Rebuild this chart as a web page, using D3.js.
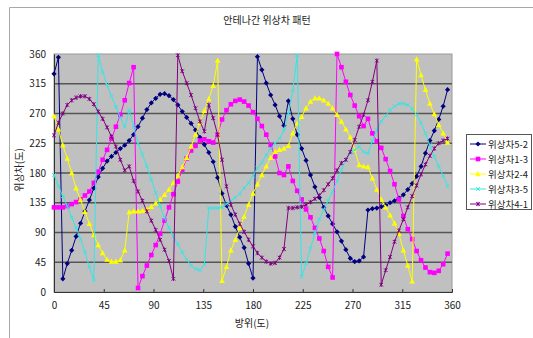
<!DOCTYPE html>
<html>
<head>
<meta charset="utf-8">
<script src="https://cdn.jsdelivr.net/npm/d3@7/dist/d3.min.js"></script>
<style>
  html, body { margin: 0; padding: 0; background: #fff; }
  svg { display: block; }
  text { font-family: "Noto Sans CJK KR", "Noto Sans", sans-serif; fill: #222; }
</style>
</head>
<body>
<svg id="chart" width="533" height="338"></svg>
<script>
// Azimuth samples (degrees), one every 4 degrees
const azimuth = d3.range(0, 360, 4);

const yTicks = [0, 45, 90, 135, 180, 225, 270, 315, 360];
const xTicks = [0, 45, 90, 135, 180, 225, 270, 315, 360];

const seriesNames = ["위상차5-2", "위상차1-3", "위상차2-4", "위상차3-5", "위상차4-1"];
const seriesColors = ["#000080", "#ff00ff", "#ffff00", "#33e6e6", "#800080"];
const seriesMarkers = ["diamond", "square", "triangle", "cross", "star"];

const phase52 = [330,355,20,43,63,84,104,122,139,157,174,187,198,205,211,217,222,229,238,250,
  263,276,286,293,299,300,297,291,283,273,264,255,245,234,223,211,197,173,149,131,
  117,99,83,67,43,21,356,336,316,298,283,266,252,289,262,238,217,199,177,159,
  143,128,115,103,91,77,64,51,46,47,53,124,126,127,129,131,135,138,142,147,
  155,164,175,190,210,229,244,261,281,306];

const phase13 = [128,128,128,130,133,136,140,146,152,165,182,200,215,232,250,268,290,316,340,6,
  24,40,56,71,88,108,128,148,167,185,202,214,221,229,231,228,226,238,261,275,
  284,289,291,288,282,272,262,251,238,222,205,180,177,190,168,153,140,125,113,97,
  81,62,38,22,360,340,318,298,282,266,251,262,240,228,218,201,183,163,140,115,
  95,80,62,48,37,30,29,32,42,58];

const phase24 = [266,246,222,202,180,157,139,121,103,86,71,59,49,46,46,48,63,121,122,122,
  123,125,129,134,140,147,155,165,176,189,203,220,238,256,274,292,312,350,17,38,
  63,79,97,114,132,149,163,177,190,203,212,215,217,221,240,255,265,278,288,293,
  293,290,285,278,268,258,246,234,215,192,190,189,172,155,140,128,116,104,88,63,
  40,16,352,328,306,285,269,253,240,226];

const phase35 = [177,160,145,130,113,97,80,60,38,18,358,333,313,296,280,264,250,275,250,225,
  208,190,170,150,130,112,97,84,72,60,49,40,35,33,41,127,127,127,128,133,
  138,143,149,157,165,176,187,196,207,217,225,232,245,270,305,358,23,43,66,89,
  110,125,138,152,168,185,200,210,215,220,212,210,228,245,258,267,275,281,285,285,
  283,277,268,256,240,222,205,190,176,160];

const phase41 = [237,256,270,283,290,294,296,296,292,284,273,262,249,235,220,200,184,190,168,152,
  138,122,108,94,79,64,47,20,358,334,316,298,278,258,243,283,263,238,200,160,
  132,117,103,91,79,69,59,52,46,43,44,52,65,127,127,128,129,132,136,141,
  146,154,163,172,184,195,200,212,230,250,268,290,318,350,11,33,53,76,93,110,
  128,145,161,178,193,206,217,225,229,232];

const seriesValues = [phase52, phase13, phase24, phase35, phase41];

const svg = d3.select("#chart");

// Plot area geometry
const plot = { left: 54, right: 452, top: 54, bottom: 292 };

const x = d3.scaleLinear().domain([0, 360]).range([plot.left, plot.right]);
const y = d3.scaleLinear().domain([0, 360]).range([plot.bottom, plot.top]);

// Outer chart frame (continues past the visible area)
svg.append("path")
  .attr("d", `M9.5,338 V7.5 H533`)
  .attr("fill", "none")
  .attr("stroke", "#a8a8a8")
  .attr("stroke-width", 1);

// Title
svg.append("text")
  .attr("x", 267).attr("y", 24)
  .attr("text-anchor", "middle")
  .attr("font-size", 10)
  .text("안테나간 위상차 패턴");

// Plot background
svg.append("rect")
  .attr("x", plot.left).attr("y", plot.top)
  .attr("width", plot.right - plot.left).attr("height", plot.bottom - plot.top)
  .attr("fill", "#c0c0c0")
  .attr("stroke", "#9a9a9a");

// Horizontal gridlines
svg.append("g")
  .selectAll("line")
  .data(yTicks.filter(d => d > 0 && d < 360))
  .join("line")
  .attr("x1", plot.left).attr("x2", plot.right)
  .attr("y1", d => y(d)).attr("y2", d => y(d))
  .attr("stroke", "#555")
  .attr("stroke-width", 1.6);

// Axes
const xAxis = d3.axisBottom(x).tickValues(xTicks).tickSize(-3).tickPadding(10).tickFormat(d3.format("d"));
const yAxis = d3.axisLeft(y).tickValues(yTicks).tickSize(0).tickPadding(8).tickFormat(d3.format("d"));

const gx = svg.append("g").attr("transform", `translate(0,${plot.bottom})`).call(xAxis);
const gy = svg.append("g").attr("transform", `translate(${plot.left},0)`).call(yAxis);
[gx, gy].forEach(g => {
  g.select(".domain").attr("stroke", "#333");
  g.selectAll(".tick line").attr("stroke", "#333");
  g.selectAll(".tick text").attr("font-size", 10).attr("fill", "#222")
    .attr("font-family", "\"Noto Sans CJK KR\", sans-serif");
});

// Axis titles
svg.append("text")
  .attr("x", 252).attr("y", 327)
  .attr("text-anchor", "middle")
  .attr("font-size", 10)
  .text("방위(도)");

svg.append("text")
  .attr("transform", "translate(23,170) rotate(-90)")
  .attr("text-anchor", "middle")
  .attr("font-size", 10)
  .text("위상차(도)");

// Marker shapes
function marker(sel, kind, color) {
  if (kind === "diamond") {
    sel.append("path").attr("d", "M0,-2.6 L2.6,0 L0,2.6 L-2.6,0 Z").attr("fill", color);
  } else if (kind === "square") {
    sel.append("rect").attr("x", -2.3).attr("y", -2.3).attr("width", 4.6).attr("height", 4.6).attr("fill", color);
  } else if (kind === "triangle") {
    sel.append("path").attr("d", "M0,-3 L2.8,2.2 L-2.8,2.2 Z").attr("fill", color);
  } else if (kind === "cross") {
    sel.append("path").attr("d", "M-1.8,-1.8 L1.8,1.8 M-1.8,1.8 L1.8,-1.8").attr("stroke", color).attr("stroke-width", 1);
  } else if (kind === "star") {
    sel.append("path").attr("d", "M-1.8,-1.8 L1.8,1.8 M-1.8,1.8 L1.8,-1.8 M0,-2.2 V2.2").attr("stroke", color).attr("stroke-width", 1);
  }
}

const line = d3.line().x(d => x(d[0])).y(d => y(d[1]));

seriesValues.forEach((vals, i) => {
  const pts = azimuth.map((a, k) => [a, vals[k]]);
  const g = svg.append("g");
  g.append("path")
    .datum(pts)
    .attr("d", line)
    .attr("fill", "none")
    .attr("stroke", seriesColors[i])
    .attr("stroke-width", 1);
  g.selectAll("g.pt")
    .data(pts)
    .join("g")
    .attr("class", "pt")
    .attr("transform", d => `translate(${x(d[0])},${y(d[1])})`)
    .each(function () { marker(d3.select(this), seriesMarkers[i], seriesColors[i]); });
});

// Legend
const legend = svg.append("g");
legend.append("rect")
  .attr("x", 466.5).attr("y", 134.5).attr("width", 65).attr("height", 75)
  .attr("fill", "#fff").attr("stroke", "#555");
seriesNames.forEach((name, i) => {
  const ly = 144 + i * 15;
  const row = legend.append("g");
  row.append("line")
    .attr("x1", 470).attr("x2", 486).attr("y1", ly).attr("y2", ly)
    .attr("stroke", seriesColors[i]).attr("stroke-width", 1);
  marker(row.append("g").attr("transform", `translate(478,${ly})`), seriesMarkers[i], seriesColors[i]);
  row.append("text")
    .attr("x", 488).attr("y", ly + 3.5)
    .attr("font-size", 9.5)
    .attr("textLength", 40)
    .attr("lengthAdjust", "spacingAndGlyphs")
    .text(name);
});
</script>
</body>
</html>
